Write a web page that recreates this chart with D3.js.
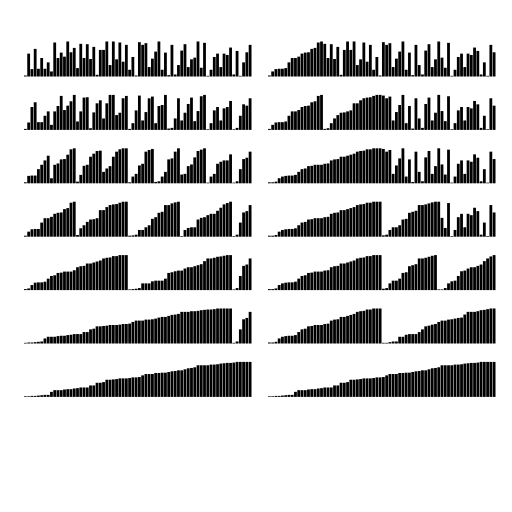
<head>
	<style>
		body { margin: 0; background: #fff; }
	</style>
</head>
<body>

	<svg height="512" width="512"></svg> <!--screen-->

	<script src="https://cdnjs.cloudflare.com/ajax/libs/d3/7.8.5/d3.min.js"></script>
	<script>

		// starting order of the 70 values
		var values = [
			3, 68, 22, 82, 23, 55, 23, 42, 15, 101,
			55, 71, 59, 104, 72, 85, 25, 97, 55, 96,
			52, 88, 5, 79, 104, 79, 104, 34, 51, 101,
			44, 94, 20, 58, 3, 102, 94, 99, 28, 53,
			74, 104, 20, 71, 4, 94, 34, 6, 77, 96,
			28, 51, 104, 56, 26, 100, 2, 20, 58, 68,
			28, 68, 64, 86, 76, 6, 42, 2, 94, 72
		];

		// left column: bottom-up passes, run width per row
		var passWidths = [2, 4, 8, 16, 32, 64, 70];

		// right column: top-down, sorted ranges per row
		var topDownRuns = [
			[[0, 17]],
			[[0, 17], [17, 35]],
			[[0, 35]],
			[[0, 35], [35, 52]],
			[[0, 35], [35, 52], [52, 70]],
			[[0, 35], [35, 70]],
			[[0, 70]]
		];

		var colX = [24, 268], panelW = 227.5, panelH = 35;
		var rowY0 = 41.5, rowStep = 53.4;

		function sortRanges(ranges){
			var a = values.slice();
			ranges.forEach(function(r){
				var part = a.slice(r[0], r[1]).sort(d3.ascending);
				for(var i = 0; i < part.length; ++ i) a[r[0] + i] = part[i];
			});
			return a;
		}

		function widthRanges(w){
			var r = [];
			for(var i = 0; i < values.length; i += w) r.push([i, Math.min(i + w, values.length)]);
			return r;
		}

		var x = d3.scaleBand()
			.domain(d3.range(values.length))
			.range([0, panelW])
			.paddingInner(0.14)
			.paddingOuter(0);

		var y = d3.scaleLinear()
			.domain([0, 104])
			.range([panelH, 0]);

		var svg = d3.select("svg");
		svg.append("rect").attr("width", "100%").attr("height", "100%").attr("fill", "#ffffff");

		var panels = [];
		passWidths.forEach(function(w, r){ panels.push({col: 0, row: r, data: sortRanges(widthRanges(w))}); });
		topDownRuns.forEach(function(runs, r){ panels.push({col: 1, row: r, data: sortRanges(runs)}); });

		panels.forEach(function(p){
			var g = svg.append("g")
				.attr("transform", "translate(" + colX[p.col] + "," + (rowY0 + p.row * rowStep) + ")");
			g.selectAll("rect")
				.data(p.data)
				.enter().append("rect")
				.attr("x", function(d, i){ return x(i); })
				.attr("width", x.bandwidth())
				.attr("y", function(d){ return y(d); })
				.attr("height", function(d){ return panelH - y(d); })
				.attr("fill", "#000");
		});
	</script>
</body>
